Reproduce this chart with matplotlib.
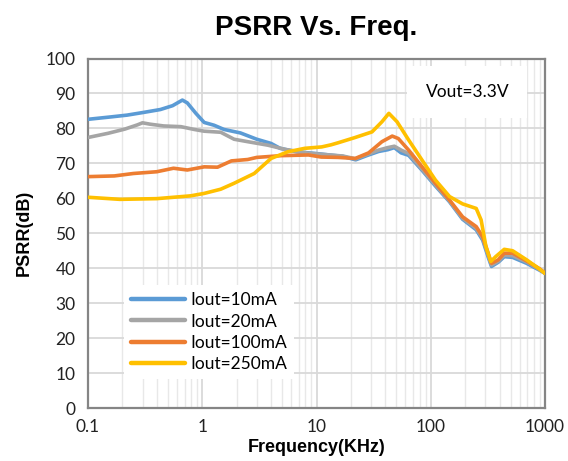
import matplotlib
matplotlib.use("Agg")
import matplotlib.pyplot as plt
from matplotlib.ticker import FixedLocator, NullFormatter, LogLocator

# ---- data ----
f_10 = [0.1, 0.16, 0.22, 0.31, 0.43, 0.55, 0.67, 0.74, 0.88, 1.04, 1.27, 1.55, 2.16, 3.0, 4.0, 4.8, 6.7,
        10, 13, 17, 22, 28, 35, 42, 48, 55, 64, 84, 110, 146, 190, 250, 285, 318, 340, 390, 440, 520, 690, 900, 1000]
v_10 = [82.6, 83.3, 83.8, 84.6, 85.4, 86.5, 88.1, 87.3, 84.3, 81.7, 80.9, 79.7, 78.7, 76.9, 75.7, 74.3, 73.3,
        72.8, 72.4, 72.0, 71.0, 72.3, 73.4, 73.9, 74.5, 73.0, 72.3, 68.0, 63.5, 59.0, 54.0, 51.0, 48.0, 43.2, 40.5, 41.7, 43.3, 43.1, 41.4, 39.4, 38.5]

f_20 = [0.1, 0.15, 0.21, 0.27, 0.3, 0.35, 0.46, 0.65, 0.85, 1.04, 1.45, 1.9, 2.5, 3.75, 5.3, 8.5,
        13, 17, 22, 28, 35, 42, 48, 55, 64, 84, 110, 146, 190, 250, 285, 318, 340, 390, 440, 520, 690, 900, 1000]
v_20 = [77.4, 78.6, 79.8, 81.0, 81.6, 81.2, 80.7, 80.5, 79.7, 79.2, 78.9, 76.9, 76.2, 75.2, 74.0, 72.9,
        72.4, 72.1, 71.3, 72.6, 73.8, 74.5, 74.9, 73.8, 72.8, 68.3, 63.8, 59.2, 54.3, 51.4, 48.5, 43.8, 40.9, 42.0, 43.7, 43.6, 41.8, 39.6, 38.6]

f_100 = [0.1, 0.17, 0.25, 0.4, 0.56, 0.74, 1.04, 1.36, 1.8, 2.5, 3.0, 4.9, 8.5, 11, 15.5, 21.8, 28.6, 37.4,
         46, 52, 64, 84, 110, 146, 190, 250, 285, 318, 340, 390, 440, 520, 690, 900, 1000]
v_100 = [66.2, 66.4, 67.1, 67.6, 68.6, 68.1, 69.0, 68.9, 70.7, 71.1, 71.7, 72.2, 72.4, 71.8, 71.7, 71.4, 73.0, 76.2,
         77.8, 77.1, 73.8, 69.0, 64.3, 59.5, 54.7, 51.9, 49.0, 44.3, 41.4, 42.4, 44.3, 44.3, 42.1, 39.8, 38.6]

f_250 = [0.1, 0.19, 0.4, 0.79, 1.04, 1.45, 1.9, 2.85, 4.0, 5.6, 7.9, 11.1, 13.4, 15.5, 21.8, 30.6, 37.4,
         43, 50.7, 64, 84, 110, 146, 190, 250, 276, 304, 335, 370, 440, 520, 690, 900, 1000]
v_250 = [60.3, 59.7, 59.9, 60.7, 61.4, 62.6, 64.3, 67.1, 71.4, 73.3, 74.3, 74.7, 75.3, 75.9, 77.4, 79.0, 81.9,
         84.3, 81.9, 76.7, 70.9, 65.2, 60.5, 58.4, 57.1, 53.8, 46.2, 41.9, 43.3, 45.4, 45.0, 42.4, 39.7, 38.5]

series_labels = ["Iout=10mA", "Iout=20mA", "Iout=100mA", "Iout=250mA"]
series_colors = ["#5B9BD5", "#A5A5A5", "#ED7D31", "#FFC000"]
x_ticks = [0.1, 1, 10, 100, 1000]
x_ticklabels = ["0.1", "1", "10", "100", "1000"]
y_ticks = list(range(0, 101, 10))

title = "PSRR Vs. Freq."
xlabel = "Frequency(KHz)"
ylabel = "PSRR(dB)"
note = "Vout=3.3V"

# ---- plot ----
body_font = ["Lato", "DejaVu Sans"]
narrow_bold = ["Liberation Sans Narrow", "Liberation Sans", "DejaVu Sans"]

fig = plt.figure(figsize=(5.68, 4.61), dpi=100)
ax = fig.add_axes([88/568, 1-408/461, (545-88)/568, (408-58.5)/461])

for fx, vy, lab, col in zip([f_10, f_20, f_100, f_250], [v_10, v_20, v_100, v_250], series_labels, series_colors):
    ax.plot(fx, vy, color=col, lw=2.6, label=lab, solid_capstyle="round", solid_joinstyle="round", zorder=3)

ax.set_xscale("log")
ax.set_xlim(0.1, 1000)
ax.set_ylim(0, 100)
ax.xaxis.set_major_locator(FixedLocator(x_ticks))
ax.set_xticklabels(x_ticklabels)
ax.xaxis.set_minor_locator(LogLocator(base=10, subs=range(2, 10)))
ax.xaxis.set_minor_formatter(NullFormatter())
ax.set_yticks(y_ticks)

ax.grid(True, which="major", color="#d9d9d9", lw=1.3, zorder=0)
ax.grid(True, which="minor", axis="x", color="#e8e8e8", lw=1.0, zorder=0)
ax.tick_params(which="both", length=0)
ax.tick_params(axis="x", labelsize=12.5, pad=8)
ax.tick_params(axis="y", labelsize=12.5, pad=9)
for t in ax.get_xticklabels() + ax.get_yticklabels():
    t.set_family(body_font)
    t.set_color("#222222")

for s in ax.spines.values():
    s.set_color("#858585")
    s.set_linewidth(1.6)

fig.text(316/568, 1-28/461, title, ha="center", va="center", fontsize=20, fontweight="bold", family=narrow_bold)
ax.set_xlabel(xlabel, fontsize=13, fontweight="bold", family=narrow_bold)
ax.set_ylabel(ylabel, fontsize=13, fontweight="bold", family=narrow_bold)
ax.xaxis.set_label_coords(0.5, -0.088)
ax.yaxis.set_label_coords(-0.12, 0.5)

ax.text(0.83, 0.905, note, transform=ax.transAxes, ha="center", va="center", fontsize=12.5, family=body_font,
        bbox=dict(facecolor="white", edgecolor="none", pad=13), zorder=5)

leg = ax.legend(loc="center left", bbox_to_anchor=(0.06, 0.217), frameon=True, fancybox=False,
                prop={"family": body_font, "size": 12.5}, handlelength=3.1, labelspacing=0.3,
                handletextpad=0.3, borderpad=0.4)
leg.get_frame().set_edgecolor("none")
leg.get_frame().set_facecolor("white")
leg.get_frame().set_alpha(1.0)
for line in leg.get_lines():
    line.set_linewidth(3.2)

fig.savefig("out.png", dpi=100)
